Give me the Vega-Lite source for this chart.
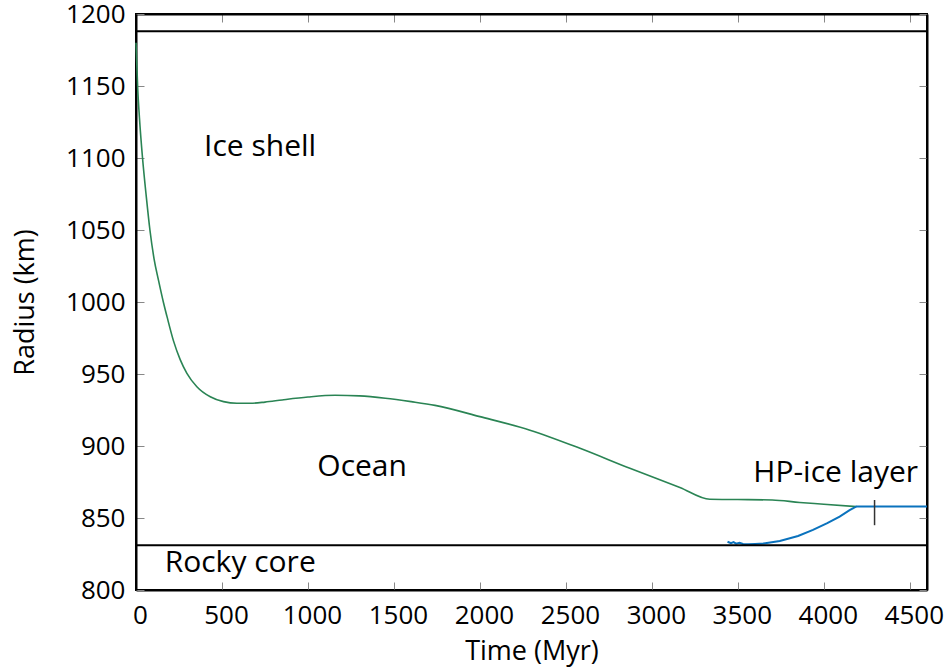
{
  "$schema": "https://vega.github.io/schema/vega-lite/v6.json",
  "width": 791,
  "height": 576,
  "autosize": {"type": "none"},
  "padding": {"left": 136, "top": 14, "right": 22, "bottom": 79},
  "background": "white",
  "config": {
    "view": {"stroke": "black", "strokeWidth": 2},
    "font": "Open Sans",
    "axis": {
      "domainColor": "black",
      "domainWidth": 2,
      "tickColor": "#888888",
      "tickWidth": 1,
      "tickSize": -8,
      "grid": false,
      "format": "d",
      "labelFlush": false,
      "labelFont": "Open Sans",
      "labelFontSize": 26,
      "labelColor": "black",
      "titleFont": "Open Sans",
      "titleFontSize": 27,
      "titleFontWeight": "normal",
      "titleColor": "black"
    }
  },
  "datasets": {
    "ocean_top": [
      {"t": 0, "r": 1180}, {"t": 10, "r": 1148}, {"t": 20, "r": 1128}, {"t": 38, "r": 1100},
      {"t": 60, "r": 1073}, {"t": 81, "r": 1050}, {"t": 105, "r": 1030}, {"t": 131, "r": 1015},
      {"t": 160, "r": 999.5}, {"t": 180, "r": 990}, {"t": 218, "r": 973}, {"t": 257, "r": 960},
      {"t": 296, "r": 950.5}, {"t": 354, "r": 941.2}, {"t": 432, "r": 934.2}, {"t": 509, "r": 930.8},
      {"t": 587, "r": 929.7}, {"t": 664, "r": 929.7}, {"t": 750, "r": 930.5},
      {"t": 850, "r": 932}, {"t": 1000, "r": 934}, {"t": 1158, "r": 935.2}, {"t": 1300, "r": 934.8},
      {"t": 1450, "r": 933.2}, {"t": 1600, "r": 930.8}, {"t": 1739, "r": 928.2}, {"t": 2000, "r": 920.4},
      {"t": 2291, "r": 911}, {"t": 2582, "r": 898.4}, {"t": 2872, "r": 884.5}, {"t": 3163, "r": 871.2},
      {"t": 3337, "r": 863}, {"t": 3500, "r": 862.8}, {"t": 3700, "r": 862.5}, {"t": 3860, "r": 860.8},
      {"t": 4000, "r": 859.6}, {"t": 4190, "r": 857.9}
    ],
    "hp_ice": [
      {"t": 3440, "r": 833.5}, {"t": 3460, "r": 832.5}, {"t": 3475, "r": 833.2}, {"t": 3490, "r": 832.2},
      {"t": 3510, "r": 832.8}, {"t": 3530, "r": 832}, {"t": 3560, "r": 831.8}, {"t": 3600, "r": 832},
      {"t": 3650, "r": 832.3}, {"t": 3744, "r": 834}, {"t": 3850, "r": 837.5}, {"t": 3937, "r": 841.7},
      {"t": 4020, "r": 846.5}, {"t": 4092, "r": 851}, {"t": 4150, "r": 855.5}, {"t": 4190, "r": 858},
      {"t": 4300, "r": 858}, {"t": 4450, "r": 858}, {"t": 4600, "r": 858}
    ],
    "boundaries": [
      {"r": 1188},
      {"r": 831}
    ],
    "marker": [
      {"t": 4295, "r_lo": 845, "r_hi": 862.5}
    ],
    "regions": [
      {"t": 722, "r": 1107.6, "name": "Ice shell"},
      {"t": 1315, "r": 885.4, "name": "Ocean"},
      {"t": 4069, "r": 881.2, "name": "HP-ice layer"},
      {"t": 606, "r": 818.75, "name": "Rocky core"}
    ]
  },
  "resolve": {"axis": {"x": "independent", "y": "independent"}},
  "layer": [
    {
      "data": {"name": "ocean_top"},
      "mark": {"type": "line", "color": "#2a8454", "strokeWidth": 1.6, "interpolate": "monotone"},
      "encoding": {
        "x": {
          "field": "t", "type": "quantitative",
          "scale": {"domain": [0, 4600], "nice": false, "zero": false},
          "axis": {"orient": "bottom", "values": [0, 500, 1000, 1500, 2000, 2500, 3000, 3500, 4000, 4500], "title": "Time (Myr)", "labelPadding": 20, "labelOffset": 4, "titlePadding": 10}
        },
        "y": {
          "field": "r", "type": "quantitative",
          "scale": {"domain": [800, 1200], "nice": false, "zero": false},
          "axis": {"orient": "left", "values": [800, 850, 900, 950, 1000, 1050, 1100, 1150, 1200], "title": "Radius (km)", "labelPadding": 19, "titlePadding": 26}
        }
      }
    },
    {
      "data": {"name": "hp_ice"},
      "mark": {"type": "line", "color": "#0a72bd", "strokeWidth": 2},
      "encoding": {
        "x": {
          "field": "t", "type": "quantitative",
          "axis": {"orient": "top", "values": [0, 500, 1000, 1500, 2000, 2500, 3000, 3500, 4000, 4500], "labels": false, "title": null}
        },
        "y": {
          "field": "r", "type": "quantitative",
          "axis": {"orient": "right", "values": [800, 850, 900, 950, 1000, 1050, 1100, 1150, 1200], "labels": false, "title": null}
        }
      }
    },
    {
      "data": {"name": "boundaries"},
      "mark": {"type": "rule", "color": "black", "strokeWidth": 2},
      "encoding": {
        "y": {"field": "r", "type": "quantitative", "axis": null}
      }
    },
    {
      "data": {"name": "marker"},
      "mark": {"type": "rule", "color": "#333333", "strokeWidth": 1.5},
      "encoding": {
        "x": {"field": "t", "type": "quantitative", "axis": null},
        "y": {"field": "r_lo", "type": "quantitative", "axis": null},
        "y2": {"field": "r_hi"}
      }
    },
    {
      "data": {"name": "regions"},
      "mark": {"type": "text", "font": "Open Sans", "fontSize": 30, "color": "black", "align": "center", "baseline": "middle"},
      "encoding": {
        "x": {"field": "t", "type": "quantitative", "axis": null},
        "y": {"field": "r", "type": "quantitative", "axis": null},
        "text": {"field": "name"}
      }
    }
  ]
}
